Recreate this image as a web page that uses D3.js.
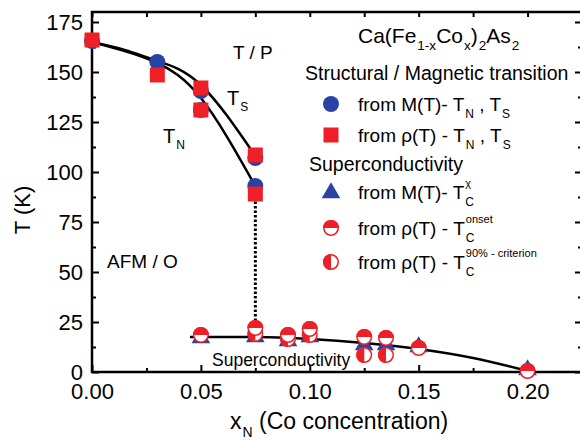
<!DOCTYPE html>
<html>
<head>
<meta charset="utf-8">
<script src="https://cdn.jsdelivr.net/npm/d3@7"></script>
<style>
body { margin: 0; background: #fff; }
text { font-family: "Liberation Sans", Arial, sans-serif; fill: #000; white-space: pre; }
</style>
</head>
<body>
<svg id="chart" width="580" height="440"></svg>
<script>
const xTicks = [0, 0.05, 0.10, 0.15, 0.20];
const xMinor = [0.025, 0.075, 0.125, 0.175, 0.225];
const yTicks = [0, 25, 50, 75, 100, 125, 150, 175];
const yMinor = [12.5, 37.5, 62.5, 87.5, 112.5, 137.5, 162.5];

// guide curves through T_S and T_N
const curveX = [0, 0.015, 0.03, 0.05, 0.075];
const tsCurveT = [165, 161, 155.5, 143.5, 108];
const tnCurveT = [165, 160.5, 154.5, 137, 93];

// superconducting dome guide
const domeX = [0.045, 0.075, 0.10, 0.125, 0.15, 0.175, 0.20];
const domeT = [17.5, 17.5, 16.5, 14.5, 11.5, 7, 0.5];

// structural / magnetic transition
const mtX = [0, 0.03, 0.05, 0.05, 0.075, 0.075];
const mtT = [165.5, 155, 140.5, 131, 107, 93];
const rhoX = [0, 0.03, 0.05, 0.05, 0.075, 0.075];
const rhoT = [166, 148.5, 142, 131, 108.5, 89];

// superconductivity
const chiX = [0.05, 0.075, 0.09, 0.10, 0.125, 0.135, 0.15, 0.20];
const chiT = [17, 17.5, 15.5, 17.5, 13.5, 13.5, 12.5, 1];
const onsetX = [0.05, 0.075, 0.09, 0.10, 0.125, 0.135, 0.15, 0.20];
const onsetT = [18.5, 22, 18.5, 21.5, 17.5, 17, 12, 0.5];
const c90X = [0.075, 0.09, 0.10, 0.125, 0.135];
const c90T = [19, 16.5, 18.5, 8.5, 8.5];

const RED = "#ee1f26";
const BLUE = "#2a42a3";

const svg = d3.select("#chart");
const x = d3.scaleLinear().domain([0, 0.225]).range([92, 582]);
const y = d3.scaleLinear().domain([0, 180]).range([372, 12]);

// axes (ticks point inward)
function styleAxis(g) {
  g.select(".domain").remove();
  g.selectAll("line").attr("stroke", "#000").attr("stroke-width", 2);
  g.selectAll("text").style("font-size", "22px").attr("fill", "#000");
}
svg.append("g").attr("transform", `translate(0,${y(0)})`)
  .call(d3.axisBottom(x).tickValues(xTicks).tickSize(-7).tickPadding(11).tickFormat(d3.format(".2f")))
  .call(styleAxis);
svg.append("g").attr("transform", `translate(0,${y(0)})`)
  .call(d3.axisBottom(x).tickValues(xMinor).tickSize(-4).tickFormat(""))
  .call(styleAxis);
svg.append("g").attr("transform", `translate(0,${y(180)})`)
  .call(d3.axisTop(x).tickValues(xTicks.concat(xMinor)).tickSize(-5).tickFormat(""))
  .call(styleAxis);
svg.append("g").attr("transform", `translate(${x(0)},0)`)
  .call(d3.axisLeft(y).tickValues(yTicks).tickSize(-7).tickPadding(9))
  .call(styleAxis);
svg.append("g").attr("transform", `translate(${x(0)},0)`)
  .call(d3.axisLeft(y).tickValues(yMinor).tickSize(-4).tickFormat(""))
  .call(styleAxis);
svg.append("g").attr("transform", `translate(${x(0.225)},0)`)
  .call(d3.axisRight(y).tickValues(yTicks).tickSize(-7).tickFormat(""))
  .call(styleAxis);
svg.append("g").attr("transform", `translate(${x(0.225)},0)`)
  .call(d3.axisRight(y).tickValues(yMinor).tickSize(-4).tickFormat(""))
  .call(styleAxis);

svg.append("rect")
  .attr("x", x(0)).attr("y", y(180))
  .attr("width", x(0.225) - x(0)).attr("height", y(0) - y(180))
  .attr("fill", "none").attr("stroke", "#000").attr("stroke-width", 2.5);

// axis titles
svg.append("text").attr("transform", "translate(30,210) rotate(-90)")
  .attr("text-anchor", "middle").style("font-size", "22px").text("T (K)");

// rich text helper: parts are strings or {sub, sup}
function rich(g, x0, y0, parts, fs, opt = {}) {
  const subFs = opt.subFs || fs * 0.62;
  const supFs = opt.supFs || fs * 0.58;
  const subDy = opt.subDy || fs * 0.38;
  const supDy = opt.supDy || fs * 0.6;
  let cx = x0;
  parts.forEach(p => {
    if (typeof p === "string") {
      const t = g.append("text").attr("x", cx).attr("y", y0).style("font-size", fs + "px").text(p);
      cx += t.node().getComputedTextLength();
    } else {
      let w = 0;
      if (p.sub !== undefined) {
        const t = g.append("text").attr("x", cx + 1).attr("y", y0 + subDy).style("font-size", subFs + "px").text(p.sub);
        w = Math.max(w, t.node().getComputedTextLength() + 1);
      }
      if (p.sup !== undefined) {
        const t = g.append("text").attr("x", cx + 1).attr("y", y0 - supDy).style("font-size", supFs + "px").text(p.sup);
        w = Math.max(w, t.node().getComputedTextLength() + 1);
      }
      cx += w;
    }
  });
  return cx;
}

const ann = svg.append("g");
rich(ann, 230, 429, ["x", {sub: "N"}, " (Co concentration)"], 23, {subFs: 14, subDy: 8});

// curves
const line = d3.line().x(d => x(d[0])).y(d => y(d[1])).curve(d3.curveNatural);
svg.append("path").datum(curveX.map((v, i) => [v, tsCurveT[i]]))
  .attr("d", line).attr("fill", "none").attr("stroke", "#000").attr("stroke-width", 2.5);
svg.append("path").datum(curveX.map((v, i) => [v, tnCurveT[i]]))
  .attr("d", line).attr("fill", "none").attr("stroke", "#000").attr("stroke-width", 2.5);
svg.append("path").datum(domeX.map((v, i) => [v, domeT[i]]))
  .attr("d", d3.line().x(d => x(d[0])).y(d => y(d[1])).curve(d3.curveMonotoneX))
  .attr("fill", "none").attr("stroke", "#000").attr("stroke-width", 2.5);
svg.append("line")
  .attr("x1", x(0.075)).attr("x2", x(0.075)).attr("y1", y(92)).attr("y2", y(21))
  .attr("stroke", "#000").attr("stroke-width", 3).attr("stroke-dasharray", "2.5,2");

// marker drawers
function drawCircle(g, cx, cy, r = 8) {
  g.append("circle").attr("cx", cx).attr("cy", cy).attr("r", r).attr("fill", BLUE);
}
function drawSquare(g, cx, cy, s = 15) {
  g.append("rect").attr("x", cx - s / 2).attr("y", cy - s / 2).attr("width", s).attr("height", s).attr("fill", RED);
}
function drawTriangle(g, cx, cy) {
  g.append("path").attr("transform", `translate(${cx},${cy})`)
    .attr("d", d3.symbol(d3.symbolTriangle).size(150)()).attr("fill", BLUE);
}
function drawHalf(g, cx, cy, kind, r = 8) {
  g.append("circle").attr("cx", cx).attr("cy", cy).attr("r", r - 0.75)
    .attr("fill", "#fff").attr("stroke", RED).attr("stroke-width", 1.5);
  const d = kind === "top"
    ? `M${cx - r},${cy} A${r},${r} 0 0 1 ${cx + r},${cy} Z`
    : `M${cx},${cy - r} A${r},${r} 0 0 0 ${cx},${cy + r} Z`;
  g.append("path").attr("d", d).attr("fill", RED);
}

const marks = svg.append("g");
mtX.forEach((v, i) => drawCircle(marks, x(v), y(mtT[i])));
rhoX.forEach((v, i) => drawSquare(marks, x(v), y(rhoT[i])));
chiX.forEach((v, i) => drawTriangle(marks, x(v), y(chiT[i])));
c90X.forEach((v, i) => drawHalf(marks, x(v), y(c90T[i]), "left"));
onsetX.forEach((v, i) => drawHalf(marks, x(v), y(onsetT[i]), "top"));

// annotations in the plot
ann.append("text").attr("x", 233).attr("y", 59).style("font-size", "19px").text("T / P");
ann.append("text").attr("x", 107).attr("y", 268).style("font-size", "19px").text("AFM / O");
ann.append("text").attr("x", 212).attr("y", 366).style("font-size", "17.5px").text("Superconductivity");
rich(ann, 227, 105, ["T", {sub: "S"}], 20, {subFs: 12, subDy: 6});
rich(ann, 163, 143, ["T", {sub: "N"}], 20, {subFs: 12, subDy: 6});

// legend
const lg = svg.append("g");
rich(lg, 358, 43, ["Ca(Fe", {sub: "1-x"}, "Co", {sub: "x"}, ")", {sub: "2"}, "As", {sub: "2"}], 21, {subFs: 13.5, subDy: 7});
lg.append("text").attr("x", 305).attr("y", 80).style("font-size", "19.5px").text("Structural / Magnetic transition");
lg.append("text").attr("x", 309).attr("y", 171).style("font-size", "19.5px").text("Superconductivity");

const lo = {subFs: 12, subDy: 7, supFs: 11, supDy: 12};
drawCircle(lg, 331, 104);
rich(lg, 358, 111, ["from M(T)- T", {sub: "N"}, " , T", {sub: "S"}], 19, lo);
drawSquare(lg, 331, 135);
rich(lg, 358, 142, ["from \u03c1(T) - T", {sub: "N"}, " , T", {sub: "S"}], 19, lo);
drawTriangle(lg, 331, 193);
rich(lg, 358, 199, ["from M(T)- T", {sub: "C", sup: "\u03c7"}], 19, lo);
drawHalf(lg, 331, 228, "top");
rich(lg, 358, 235, ["from \u03c1(T) - T", {sub: "C", sup: "onset"}], 19, lo);
drawHalf(lg, 331, 262, "left");
rich(lg, 358, 269, ["from \u03c1(T) - T", {sub: "C", sup: "90% - criterion"}], 19, lo);
</script>
</body>
</html>
